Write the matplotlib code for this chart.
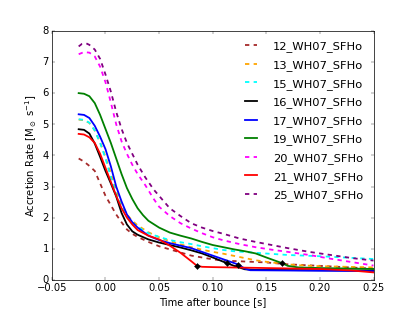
import matplotlib
matplotlib.use("Agg")
import matplotlib.pyplot as plt

plt.style.use("classic")
plt.rcParams["font.size"] = 13.9
plt.rcParams["mathtext.fontset"] = "dejavusans"
plt.rcParams["figure.facecolor"] = "white"
plt.rcParams["savefig.facecolor"] = "white"

labels = ["12_WH07_SFHo", "13_WH07_SFHo", "15_WH07_SFHo", "16_WH07_SFHo",
          "17_WH07_SFHo", "19_WH07_SFHo", "20_WH07_SFHo", "21_WH07_SFHo",
          "25_WH07_SFHo"]
colors = ["brown", "orange", "cyan", "black", "blue", "green", "magenta", "red", "purple"]
styles = ["--", "--", "--", "-", "-", "-", "--", "-", "--"]

t_12 = [-0.025, -0.02, -0.015, -0.01, -0.005, 0.0, 0.005, 0.01, 0.015, 0.02, 0.025, 0.03,
        0.04, 0.05, 0.06, 0.07, 0.08, 0.09, 0.10, 0.11, 0.13, 0.15, 0.17, 0.20, 0.25]
r_12 = [3.90, 3.80, 3.66, 3.50, 3.10, 2.70, 2.40, 2.10, 1.85, 1.62, 1.48, 1.38,
        1.22, 1.08, 0.98, 0.88, 0.78, 0.72, 0.66, 0.62, 0.59, 0.56, 0.50, 0.45, 0.36]

t_13 = [-0.025, -0.02, -0.015, -0.01, -0.005, 0.0, 0.005, 0.01, 0.015, 0.02, 0.025, 0.03,
        0.04, 0.05, 0.06, 0.07, 0.08, 0.09, 0.10, 0.11, 0.12, 0.13, 0.14, 0.15, 0.16,
        0.17, 0.18, 0.20, 0.25]
r_13 = [5.15, 5.13, 5.04, 4.80, 4.42, 3.95, 3.42, 2.85, 2.42, 2.10, 1.90, 1.75,
        1.53, 1.37, 1.24, 1.14, 1.05, 0.97, 0.90, 0.84, 0.77, 0.70, 0.63, 0.58, 0.54,
        0.50, 0.47, 0.44, 0.40]

t_15 = [-0.025, -0.02, -0.015, -0.01, -0.005, 0.0, 0.005, 0.01, 0.015, 0.02, 0.025, 0.03,
        0.04, 0.05, 0.06, 0.07, 0.08, 0.09, 0.10, 0.11, 0.12, 0.14, 0.17, 0.20, 0.25]
r_15 = [5.16, 5.14, 5.05, 4.80, 4.40, 3.90, 3.30, 2.75, 2.35, 2.05, 1.85, 1.70,
        1.50, 1.38, 1.28, 1.21, 1.15, 1.08, 1.02, 0.96, 0.92, 0.87, 0.80, 0.76, 0.67]

t_16 = [-0.025, -0.02, -0.015, -0.01, -0.005, 0.0, 0.005, 0.01, 0.015, 0.02, 0.025, 0.03,
        0.04, 0.05, 0.06, 0.07, 0.08, 0.09, 0.10, 0.113, 0.12, 0.13, 0.14, 0.25]
r_16 = [4.84, 4.82, 4.70, 4.38, 3.95, 3.50, 3.10, 2.68, 2.15, 1.78, 1.56, 1.45,
        1.30, 1.20, 1.12, 1.04, 0.95, 0.85, 0.72, 0.54, 0.45, 0.34, 0.32, 0.30]

t_17 = [-0.025, -0.02, -0.015, -0.01, -0.005, 0.0, 0.005, 0.01, 0.015, 0.02, 0.025, 0.03,
        0.04, 0.05, 0.06, 0.07, 0.08, 0.09, 0.10, 0.11, 0.12, 0.124, 0.13, 0.135, 0.25]
r_17 = [5.32, 5.30, 5.20, 4.95, 4.60, 4.20, 3.65, 3.00, 2.52, 2.10, 1.85, 1.68,
        1.42, 1.28, 1.18, 1.10, 1.02, 0.90, 0.78, 0.66, 0.54, 0.49, 0.36, 0.31, 0.28]

t_19 = [-0.025, -0.02, -0.015, -0.01, -0.005, 0.0, 0.005, 0.01, 0.015, 0.02, 0.025, 0.03,
        0.035, 0.04, 0.05, 0.06, 0.07, 0.08, 0.09, 0.10, 0.11, 0.12, 0.13, 0.14, 0.15,
        0.1645, 0.17, 0.18, 0.20, 0.25]
r_19 = [6.00, 5.98, 5.90, 5.68, 5.30, 4.85, 4.40, 3.90, 3.40, 2.95, 2.60, 2.30,
        2.08, 1.90, 1.68, 1.52, 1.42, 1.33, 1.22, 1.12, 1.05, 0.98, 0.92, 0.85, 0.72,
        0.54, 0.45, 0.40, 0.38, 0.35]

t_20 = [-0.025, -0.02, -0.015, -0.01, -0.005, 0.0, 0.005, 0.01, 0.015, 0.02, 0.025, 0.03,
        0.037, 0.045, 0.05, 0.06, 0.07, 0.08, 0.09, 0.10, 0.11, 0.125, 0.14, 0.155, 0.17,
        0.19, 0.21, 0.23, 0.25]
r_20 = [7.25, 7.32, 7.30, 7.18, 6.85, 6.35, 5.70, 5.00, 4.45, 4.05, 3.70, 3.40,
        3.05, 2.60, 2.35, 2.05, 1.82, 1.65, 1.50, 1.37, 1.27, 1.15, 1.05, 0.97, 0.90,
        0.80, 0.68, 0.57, 0.46]

t_21 = [-0.025, -0.02, -0.015, -0.01, -0.005, 0.0, 0.005, 0.01, 0.015, 0.02, 0.025, 0.03,
        0.04, 0.05, 0.06, 0.07, 0.08, 0.085, 0.09, 0.10, 0.15, 0.20, 0.23, 0.25]
r_21 = [4.69, 4.67, 4.58, 4.40, 4.05, 3.60, 3.15, 2.70, 2.30, 2.00, 1.78, 1.60,
        1.42, 1.30, 1.10, 0.87, 0.60, 0.46, 0.42, 0.41, 0.38, 0.35, 0.30, 0.24]

t_25 = [-0.025, -0.022, -0.018, -0.015, -0.01, -0.005, 0.0, 0.005, 0.01, 0.015, 0.02,
        0.025, 0.03, 0.037, 0.045, 0.05, 0.06, 0.07, 0.08, 0.09, 0.10, 0.11, 0.125, 0.14,
        0.155, 0.17, 0.19, 0.21, 0.23, 0.25]
r_25 = [7.50, 7.58, 7.60, 7.55, 7.40, 7.10, 6.60, 6.05, 5.40, 4.85, 4.40,
        4.05, 3.70, 3.30, 2.90, 2.70, 2.30, 2.05, 1.82, 1.68, 1.57, 1.48, 1.33, 1.22,
        1.12, 1.02, 0.90, 0.80, 0.70, 0.62]

marker_t = [0.085, 0.113, 0.124, 0.1645]
marker_r = [0.46, 0.54, 0.49, 0.54]

series_t = [t_12, t_13, t_15, t_16, t_17, t_19, t_20, t_21, t_25]
series_r = [r_12, r_13, r_15, r_16, r_17, r_19, r_20, r_21, r_25]

fig = plt.figure(figsize=(8, 6))
ax = fig.add_subplot(111)
for t, r, c, ls, lab in zip(series_t, series_r, colors, styles, labels):
    ax.plot(t, r, color=c, linestyle=ls, linewidth=2.5, label=lab)
ax.plot(marker_t, marker_r, "kD", markersize=6, linestyle="none")

ax.set_xlim(-0.05, 0.25)
ax.set_ylim(0, 8)
ax.set_xticks([-0.05, 0.0, 0.05, 0.10, 0.15, 0.20, 0.25])
ax.set_xticklabels(["\u22120.05", "0.00", "0.05", "0.10", "0.15", "0.20", "0.25"])
ax.set_xlabel("Time after bounce [s]")
ax.set_ylabel(r"Accretion Rate [M$_\odot$ s$^{-1}$]")
ax.legend(loc="upper right", frameon=False, fontsize=16, handlelength=1.6,
          handletextpad=1.1, labelspacing=0.66)

fig.savefig("out.png", dpi=51.875)
